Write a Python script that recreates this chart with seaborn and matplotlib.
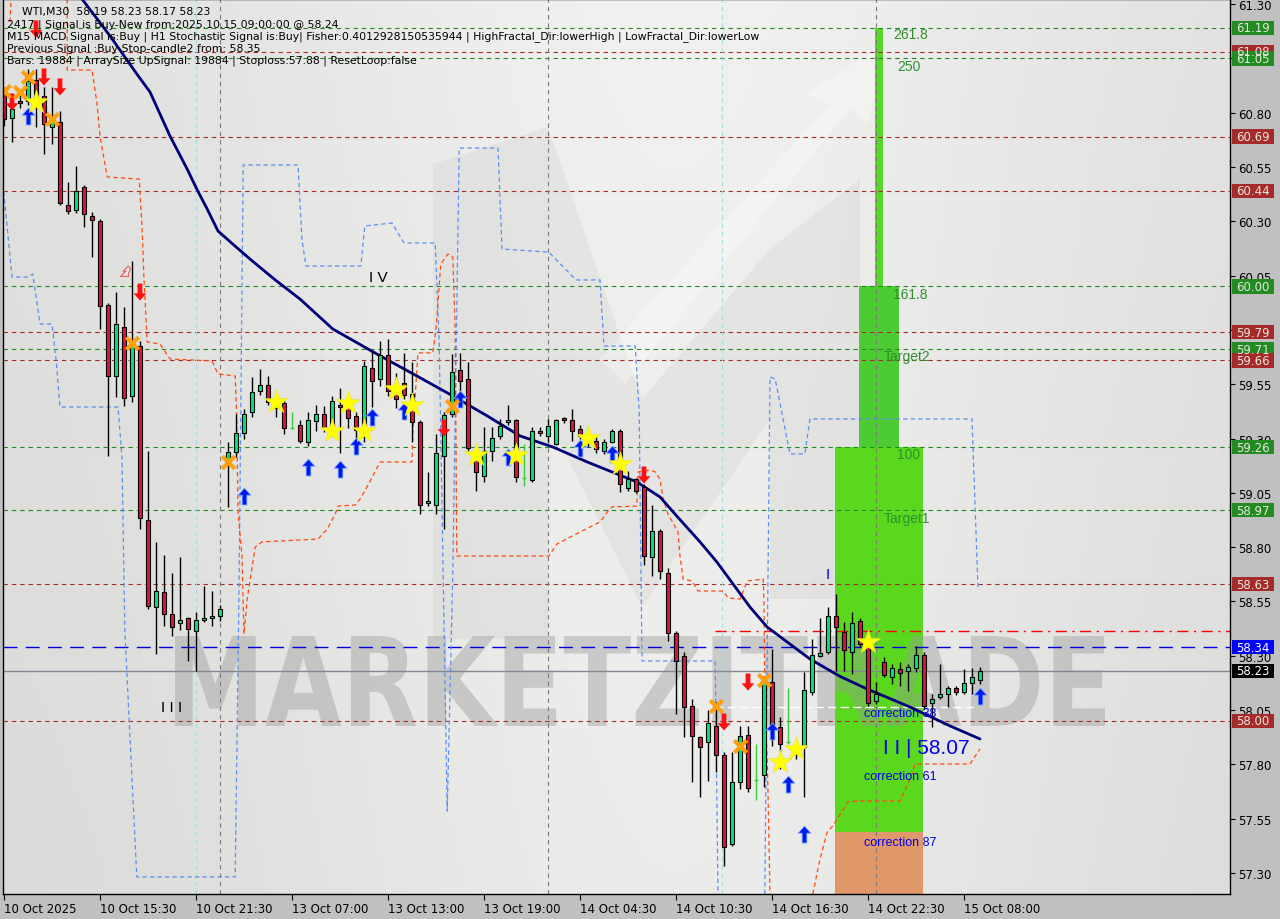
import numpy as np
import pandas as pd
import matplotlib
matplotlib.use("Agg")
import matplotlib.pyplot as plt
import seaborn as sns
import matplotlib.transforms as mtransforms
from matplotlib.patches import Rectangle, Polygon, PathPatch
from matplotlib.textpath import TextPath
from matplotlib.font_manager import FontProperties

# ---------------- data ----------------
opens = [60.886, 60.775, 60.854, 60.854, 60.95, 60.877, 60.734, 60.757, 60.375, 60.352,
         60.458, 60.324, 60.301, 59.915, 59.588, 59.813, 59.496, 59.726, 58.925, 58.524,
         58.593, 58.492, 58.451, 58.474, 58.414, 58.465, 58.474, 58.483, 59.201, 59.238,
         59.325, 59.422, 59.519, 59.546, 59.47, 59.464, 59.35, 59.362, 59.284, 59.381,
         59.413, 59.339, 59.454, 59.454, 59.404, 59.358, 59.625, 59.574, 59.684, 59.52,
         59.555, 59.505, 59.376, 59.003, 58.994, 59.22, 59.413, 59.615, 59.574, 59.215,
         59.127, 59.243, 59.311, 59.376, 59.385, 59.12, 59.109, 59.335, 59.311, 59.275,
         59.395, 59.385, 59.344, 59.32, 59.289, 59.243, 59.284, 59.335, 59.072, 59.113,
         59.077, 58.755, 58.874, 58.681, 58.405, 58.299, 58.069, 57.926, 57.903, 57.977,
         57.843, 57.434, 57.719, 57.935, 57.73, 57.751, 58.179, 57.972, 57.905, 57.871,
         57.88, 58.133, 58.299, 58.317, 58.483, 58.409, 58.317, 58.46, 58.354, 58.092,
         58.271, 58.202, 58.24, 58.23, 58.244, 58.303, 58.083, 58.11, 58.124, 58.152,
         58.133, 58.175, 58.19]
highs = [60.92, 60.877, 60.88, 61.0, 61.0, 60.92, 60.92, 60.807, 60.48, 60.554,
         60.467, 60.343, 60.31, 59.925, 59.974, 59.905, 60.117, 59.749, 59.242, 58.824,
         58.764, 58.681, 58.755, 58.48, 58.501, 58.621, 58.598, 58.534, 59.284, 59.413,
         59.436, 59.583, 59.62, 59.588, 59.50, 59.48, 59.422, 59.385, 59.422, 59.454,
         59.45, 59.496, 59.532, 59.496, 59.422, 59.657, 59.703, 59.749, 59.758, 59.60,
         59.694, 59.652, 59.385, 59.146, 59.321, 59.422, 59.689, 59.694, 59.652, 59.266,
         59.353, 59.353, 59.39, 59.454, 59.39, 59.275, 59.353, 59.353, 59.39, 59.39,
         59.40, 59.436, 59.36, 59.35, 59.31, 59.30, 59.344, 59.344, 59.15, 59.12,
         59.09, 58.994, 58.883, 58.704, 58.414, 58.317, 58.101, 57.93, 58.05, 58.087,
         57.857, 57.857, 57.977, 57.977, 57.894, 58.202, 58.331, 58.018, 58.152, 57.898,
         58.225, 58.377, 58.474, 58.524, 58.584, 58.455, 58.501, 58.474, 58.377, 58.18,
         58.294, 58.262, 58.27, 58.262, 58.345, 58.317, 58.124, 58.262, 58.161, 58.16,
         58.239, 58.244, 58.25]
lows = [60.74, 60.665, 60.82, 60.835, 60.734, 60.61, 60.656, 60.375, 60.335, 60.338,
        60.274, 60.135, 59.804, 59.22, 59.49, 59.45, 59.468, 58.883, 58.515, 58.308,
        58.437, 58.391, 58.418, 58.276, 58.23, 58.455, 58.437, 58.46, 58.985, 59.215,
        59.30, 59.40, 59.50, 59.455, 59.40, 59.321, 59.344, 59.279, 59.266, 59.335,
        59.33, 59.312, 59.234, 59.349, 59.289, 59.284, 59.445, 59.542, 59.496, 59.44,
        59.482, 59.284, 58.952, 58.99, 58.952, 58.883, 59.40, 59.50, 59.243, 59.058,
        59.10, 59.196, 59.30, 59.36, 59.10, 59.08, 59.10, 59.31, 59.284, 59.27,
        59.37, 59.289, 59.30, 59.26, 59.234, 59.23, 59.28, 59.054, 59.06, 59.05,
        58.718, 58.667, 58.653, 58.368, 58.032, 57.926, 57.719, 57.65, 57.724, 57.765,
        57.332, 57.424, 57.687, 57.673, 57.636, 57.696, 57.885, 57.779, 57.894, 57.825,
        57.65, 58.12, 58.294, 58.31, 58.23, 58.23, 58.216, 58.34, 58.069, 58.08,
        58.20, 58.17, 58.16, 58.138, 58.225, 58.055, 57.972, 58.10, 58.064, 58.12,
        58.125, 58.124, 58.17]
closes = [60.77, 60.817, 60.845, 60.946, 60.872, 60.748, 60.76, 60.384, 60.347, 60.44,
          60.333, 60.306, 59.91, 59.588, 59.827, 59.486, 59.735, 58.934, 58.529, 58.598,
          58.492, 58.432, 58.465, 58.423, 58.465, 58.474, 58.483, 58.515, 59.238, 59.325,
          59.413, 59.514, 59.546, 59.468, 59.44, 59.349, 59.35, 59.289, 59.385, 59.413,
          59.349, 59.473, 59.445, 59.395, 59.339, 59.634, 59.565, 59.684, 59.519, 59.48,
          59.50, 59.376, 58.994, 59.012, 59.233, 59.408, 59.606, 59.565, 59.256, 59.146,
          59.243, 59.302, 59.358, 59.385, 59.123, 59.12, 59.335, 59.325, 59.358, 59.385,
          59.385, 59.335, 59.311, 59.28, 59.252, 59.284, 59.335, 59.09, 59.113, 59.058,
          58.759, 58.874, 58.69, 58.405, 58.276, 58.064, 57.931, 57.88, 57.99, 57.843,
          57.42, 57.719, 57.931, 57.692, 57.73, 58.184, 57.977, 57.894, 57.905, 57.85,
          58.143, 58.303, 58.313, 58.483, 58.432, 58.327, 58.451, 58.354, 58.083, 58.124,
          58.211, 58.244, 58.22, 58.248, 58.303, 58.069, 58.101, 58.124, 58.152, 58.133,
          58.175, 58.202, 58.23]

tick_bars = [0, 12, 24, 36, 48, 60, 72, 84, 96, 108, 120]
tick_labels = ["10 Oct 2025", "10 Oct 15:30", "10 Oct 21:30", "13 Oct 07:00", "13 Oct 13:00",
               "13 Oct 19:00", "14 Oct 04:30", "14 Oct 10:30", "14 Oct 16:30", "14 Oct 22:30",
               "15 Oct 08:00"]

# moving average (bar, price)
ma_bar = [9.0, 9.75, 13.25, 16.6, 18.25, 20.75, 22.9, 24.1, 25.4, 26.75, 28.75, 30.75, 33.9,
          37, 41.1, 46.6, 51.6, 56.1, 60.4, 64.5, 68.6, 72.9, 79.1, 82, 84.1, 87, 89.1, 93.25,
          95.4, 100.75, 104.5, 107.9, 113.25, 118.25, 122]
ma_val = [61.40, 61.323, 61.153, 60.978, 60.895, 60.692, 60.54, 60.448, 60.356, 60.255,
          60.19, 60.126, 60.03, 59.942, 59.804, 59.689, 59.588, 59.496, 59.404, 59.312,
          59.261, 59.192, 59.10, 59.031, 58.943, 58.824, 58.732, 58.524, 58.432, 58.285,
          58.205, 58.147, 58.064, 57.977, 57.917]

# fractal channel lines (bar, price)
blue_bar = [-0.125, 1, 3, 3.6, 4.5, 6, 6.5, 7, 14.25, 14.75, 15.1, 16.6, 28.9, 29.4, 29.9, 36.75,
            37.25, 37.75, 44.6, 45.1, 48.5, 50, 53.9, 54.4, 55.4, 56.1, 56.9, 61.75, 62.25, 68.1,
            71.5, 74.5, 75, 78.9, 79.4, 79.75, 88.9, 89.25, np.nan, 95.1, 95.75, 96.4, 98.25,
            100.1, 100.75, 121, 121.75]
blue_val = [60.471, 60.043, 60.043, 60.057, 59.827, 59.827, 59.666, 59.445, 59.445, 59.21,
            58.418, 57.282, 57.282, 58.681, 60.559, 60.559, 60.214, 60.094, 60.094, 60.278,
            60.292, 60.2, 60.2, 59.74, 57.585, 58.681, 60.637, 60.637, 60.172, 60.158, 60.03,
            60.03, 59.726, 59.726, 59.422, 58.276, 58.276, 57.203, np.nan, 57.203, 59.583,
            59.574, 59.229, 59.229, 59.39, 59.39, 58.607]
orange_bar = [0.75, 1, np.nan, 7.9, 7.9, 11, 11.6, 12, 12.9, 16.9, 17.25, 17.5, 17.9, 19.5, 20.75,
              26, 26.75, 28.9, 29.1, 29.25, 29.75, 30, 30.4, 31.4, 32.25, 39.25, 40.4, 41.4,
              41.75, 43.9, 44.5, 45.1, 46.1, 47, 51, 51.1, 51.75, 53.6, 54, 54.6, 55.5, 56.1,
              56.4, 56.6, 68.1, 69.1, 72.5, 74.5, 75.5, 76, 79.1, 79.25, 80.75, 81.4, 82, 82.4,
              83, 83.5, 84.25, 84.5, 84.9, 86, 86.75, 89.9, 90.5, 92, 92.9, 94.9, 95, 95.1,
              95.4, 95.5, 95.75, np.nan, 101.1, 102, 102.9, 103.6, 105.5, 106.1, 112, 113.25,
              113.9, 120.75, 122]
orange_val = [61.217, 61.40, np.nan, 61.40, 60.996, 60.996, 60.849, 60.692, 60.504, 60.494,
              60.278, 60.034, 59.744, 59.735, 59.666, 59.657, 59.597, 59.588, 59.39, 58.962,
              58.759, 58.40, 58.561, 58.80, 58.824, 58.837, 58.883, 58.952, 58.989, 58.994,
              59.021, 59.058, 59.127, 59.192, 59.192, 59.33, 59.694, 59.694, 59.804, 60.103,
              60.149, 60.135, 59.804, 58.759, 58.759, 58.814, 58.879, 58.916, 58.966, 58.985,
              58.989, 59.146, 59.155, 59.146, 59.113, 59.021, 58.952, 58.92, 58.87, 58.759,
              58.653, 58.644, 58.598, 58.598, 58.566, 58.561, 58.644, 58.653, 58.547, 58.133,
              57.825, 57.673, 57.203, np.nan, 57.203, 57.364, 57.489, 57.516, 57.627, 57.631,
              57.631, 57.733, 57.802, 57.802, 57.871]

# signal markers (bar, price)
star_bar = [4, 34, 41, 43, 45, 49, 51, 59, 64, 73, 77, 97, 99, 108]
star_val = [60.849, 59.468, 59.335, 59.463, 59.335, 59.528, 59.454, 59.224, 59.224, 59.302,
            59.183, 57.811, 57.871, 58.363]
cross_bar = [0, 2, 3, 6, 16, 28, 56, 89, 92, 95]
cross_val = [60.90, 60.895, 60.964, 60.771, 59.74, 59.192, 59.45, 58.069, 57.885, 58.188]
up_bar = [3, 30, 38, 42, 44, 46, 50, 57, 63, 72, 76, 96, 98, 100, 122]
up_val = [60.784, 59.035, 59.169, 59.16, 59.266, 59.399, 59.427, 59.482, 59.215, 59.256,
          59.229, 57.954, 57.71, 57.48, 58.115]
down_bar = [1, 4, 5, 7, 17, 55, 80, 90, 93]
down_val = [60.849, 61.185, 60.964, 60.918, 59.974, 59.349, 59.132, 57.995, 58.179]

# horizontal levels
green_levels = [61.19, 61.05, 60.00, 59.71, 59.26, 58.97]
red_levels = [61.08, 60.69, 60.44, 59.79, 59.66, 58.63, 58.00]
signal_level = 58.34
bid_level = 58.23
stop_level = 58.414
corr_level = 58.064

# fibonacci zones: (bar_start, bar_end, price_low, price_high)
fib_zone_100 = (103.9, 114.9, 57.489, 59.26)
fib_zone_87 = (103.9, 114.9, 57.203, 57.489)
fib_zone_161 = (106.9, 111.9, 59.26, 60.00)
fib_zone_261 = (108.9, 109.9, 60.00, 61.19)

# ---------------- figure ----------------
sns.set_style("white")
plt.rcParams["font.family"] = ["DejaVu Sans"]

W, H = 1280, 920
fig = plt.figure(figsize=(12.8, 9.2), dpi=100, facecolor="#c0c0c0")
ax = fig.add_axes([3 / W, 25 / H, 1227 / W, 895 / H])
YMIN, YMAX = 57.2034, 61.323
XMIN, XMAX = -0.125, 153.25
ax.set_xlim(XMIN, XMAX)
ax.set_ylim(YMIN, YMAX)

# background gradient
gx = np.linspace(0, 1, 300)
gy = np.linspace(0, 1, 200)
GX, GY = np.meshgrid(gx, gy)
base = 0.855 + 0.07 * np.exp(-((GX - 0.55) ** 2) / 0.12) + 0.02 * (1 - GY)
img = np.dstack([base, base, base * 0.995])
ax.imshow(np.clip(img, 0, 1), extent=[XMIN, XMAX, YMIN, YMAX], aspect="auto", zorder=0,
          interpolation="bilinear")

def pxa(x, y):
    return ((x - 3) / 1227, (895 - y) / 895)

# faint logo
logo = Polygon([pxa(*p) for p in [(433, 640), (433, 165), (548, 128), (642, 400), (770, 250),
                                   (860, 180), (860, 600), (770, 600), (770, 420), (642, 608),
                                   (548, 420), (548, 640)]],
               closed=True, transform=ax.transAxes, facecolor="#bdbdbd", alpha=0.2,
               edgecolor="none", zorder=0.5)
ax.add_patch(logo)
arrow_poly = Polygon([pxa(*p) for p in [(600, 360), (830, 105), (805, 95), (885, 45), (868, 125),
                                         (850, 110), (625, 385)]],
                     closed=True, transform=ax.transAxes, facecolor="white", alpha=0.3,
                     edgecolor="none", zorder=0.6)
ax.add_patch(arrow_poly)

# fib zones
def zone(z, color, zo=1.5):
    b0, b1, p0, p1 = z
    ax.add_patch(Rectangle((b0, p0), b1 - b0, p1 - p0, facecolor=color, edgecolor="none", zorder=zo))

zone(fib_zone_100, "#5ad81e")
zone(fib_zone_87, "#e0986a")
zone(fib_zone_161, "#4ccc32")
zone(fib_zone_261, "#55d82a")

# watermark text
fp = FontProperties(family="DejaVu Sans", weight="bold")
tp = TextPath((0, 0), "MARKETZITRADE", size=100, prop=fp)
bb = tp.get_extents()
x0, y0 = pxa(175, 727)
x1, y1 = pxa(1105, 637)
tr = (mtransforms.Affine2D().translate(-bb.x0, -bb.y0)
      .scale((x1 - x0) / bb.width, (y1 - y0) / bb.height).translate(x0, y0) + ax.transAxes)
ax.add_patch(PathPatch(tp, transform=tr, facecolor="#9a9a9a", alpha=0.42, edgecolor="none",
                       zorder=2.5))

# horizontal levels
for p in green_levels:
    ax.axhline(p, color="#1f8c1f", lw=0.8, ls=(0, (4, 3.5)), zorder=3)
for p in red_levels:
    ax.axhline(p, color="#a52a2a", lw=0.8, ls=(0, (4, 3.5)), zorder=3)
ax.axhline(signal_level, color="#0000dd", lw=1.0, ls=(0, (10, 6)), zorder=3)
ax.axhline(bid_level, color="#808890", lw=1.0, zorder=3)
ax.hlines(stop_level, 88.9, XMAX, color="#ff0000", lw=1.0, ls=(0, (8, 4, 1.5, 4)), zorder=3)
ax.hlines(corr_level, 88.9, 121.6, color="white", lw=1.0, ls=(0, (6, 3)), zorder=3)

# vertical separators
for b in [27, 68, 109]:
    ax.axvline(b, color="#7a7a7a", lw=0.8, ls=(0, (4, 3.5)), zorder=3)
for b in [23.94, 89.75]:
    ax.axvline(b, color="#a8dce0", lw=0.8, ls=(0, (4, 3.5)), zorder=3)

# fractal channels
ax.plot(blue_bar, blue_val, color="#5b8fee", lw=0.9, ls=(0, (3.5, 2.5)), zorder=3.5)
ax.plot(orange_bar, orange_val, color="#ff4a10", lw=0.9, ls=(0, (3.5, 2.5)), zorder=3.5)

# moving average via seaborn
ma_df = pd.DataFrame({"bar": ma_bar, "ma": ma_val})
sns.lineplot(data=ma_df, x="bar", y="ma", color="#00007a", lw=2.0, ax=ax, zorder=4.5,
             estimator=None, sort=False)

# candles
df = pd.DataFrame({"o": opens, "h": highs, "l": lows, "c": closes})
df["bar"] = np.arange(len(df))
for _, r in df.iterrows():
    doji = abs(r.c - r.o) < 0.004
    if doji:
        ax.vlines(r.bar, r.l, r.h, color="#3ccc3c", lw=1.0, zorder=5)
        ax.hlines(r.c, r.bar - 0.25, r.bar + 0.25, color="#3ccc3c", lw=1.0, zorder=5)
        continue
    ax.vlines(r.bar, r.l, r.h, color="black", lw=1.0, zorder=5)
    lo, hi = min(r.o, r.c), max(r.o, r.c)
    col = "#00e676" if r.c > r.o else "#dc143c"
    ax.bar(r.bar, max(hi - lo, 0.006), bottom=lo, width=0.6, color=col, edgecolor="black",
           linewidth=0.8, zorder=5.5)

# markers
up_m = [(0, 1), (-0.75, 0.15), (-0.28, 0.15), (-0.28, -1), (0.28, -1), (0.28, 0.15), (0.75, 0.15), (0, 1)]
down_m = [(x, -y) for x, y in up_m]
ax.scatter(up_bar, up_val, marker=up_m, s=150, color="#0018f0", edgecolors="#7ab0ff",
           linewidths=0.6, zorder=7)
ax.scatter(down_bar, down_val, marker=down_m, s=150, color="#ff1010", edgecolors="none", zorder=7)
ax.scatter(star_bar, star_val, marker="*", s=330, color="#ffff00", edgecolors="#e8e040",
           linewidths=0.4, zorder=7)
ax.scatter(cross_bar, cross_val, marker="x", s=80, color="#ffa010", linewidths=3, zorder=7)
ax.scatter([15], [60.066], marker=[(0.6, 1), (-0.2, 0.2), (0.2, 0.2), (-0.6, -0.6), (0.6, -0.6),
                                   (0.6, -0.2), (0.9, 0.6), (0.6, 1)],
           s=90, facecolors="#f2e0e0", edgecolors="#e06060", linewidths=0.8, zorder=7)

# chart text objects
ax.text(103, 58.676, "I", color="#0000ee", fontsize=11, ha="center", va="center", zorder=8,
        family="Liberation Sans")
ax.text(21, 58.064, "I I I", color="black", fontsize=11, ha="center", va="center", zorder=8,
        family="Liberation Sans")
ax.text(46.75, 60.043, "I V", color="black", fontsize=11, ha="center", va="center", zorder=8,
        family="Liberation Sans")
ax.text(109.9, 57.88, "I I | 58.07", color="#0000ee", fontsize=15, ha="left", va="center",
        zorder=8, family="Liberation Sans")
for txt, pv in [("correction 38", 58.036), ("correction 61", 57.746), ("correction 87", 57.443)]:
    ax.text(107.5, pv, txt, color="#0000ee", fontsize=9, ha="left", va="center", zorder=8,
            family="Liberation Sans")
for txt, bx, pv in [("261.8", 111.1, 61.162), ("250", 111.6, 61.015), ("161.8", 111.1, 59.965),
                    ("Target2", 110.0, 59.68), ("100", 111.6, 59.229), ("Target1", 110.0, 58.934)]:
    ax.text(bx, pv, txt, color="#2f8f2f", fontsize=10, ha="left", va="center", zorder=8,
            family="Liberation Sans")

# axes styling
for s in ax.spines.values():
    s.set_color("black")
    s.set_linewidth(1.0)
    s.set_zorder(10)
ax.yaxis.tick_right()
yt = np.round(np.arange(57.30, 61.31, 0.25), 2)
ax.set_yticks(yt)
ax.set_yticklabels([f"{v:.2f}" for v in yt])
ax.tick_params(axis="y", which="both", direction="out", length=3.5, width=0.8, colors="black",
               labelsize=8.5, pad=2, right=True, left=False)
ax.set_xticks(tick_bars)
ax.set_xticklabels(tick_labels, ha="left")
ax.tick_params(axis="x", direction="out", length=4, width=0.8, colors="black", labelsize=8.5,
               pad=2, bottom=True)
for lab in ax.get_xticklabels():
    lab.set_horizontalalignment("left")
ax.set_xlabel("")
ax.set_ylabel("")
ax.grid(False)

# price boxes on right scale
trans = mtransforms.blended_transform_factory(fig.transFigure, ax.transData)
boxes = [(61.19, "#228b22"), (61.08, "#a52a2a"), (61.05, "#228b22"), (60.69, "#a52a2a"),
         (60.44, "#a52a2a"), (60.00, "#228b22"), (59.79, "#a52a2a"), (59.71, "#228b22"),
         (59.66, "#a52a2a"), (59.26, "#228b22"), (58.97, "#228b22"), (58.63, "#a52a2a"),
         (58.34, "#0000ff"), (58.23, "#000000"), (58.00, "#a52a2a")]
hpx = 14.5 / 217.25
for pv, colr in boxes:
    rect = Rectangle((1232 / W, pv - hpx / 2), 42 / W, hpx, transform=trans, facecolor=colr,
                     edgecolor="none", clip_on=False, zorder=20)
    fig.add_artist(rect)
    tcol = "white" if colr in ("#0000ff", "#000000") else "#e6e6dc"
    fig.text(1236 / W, pv, f"{pv:.2f}", transform=trans, color=tcol, fontsize=8.5,
             va="center", ha="left", zorder=21)

# header info
info = [(22, 12, "WTI,M30  58.19 58.23 58.17 58.23"),
        (7, 25, "2417 | Signal is Buy-New from:2025.10.15 09:00:00 @ 58.24"),
        (7, 37, "M15 MACD Signal is:Buy | H1 Stochastic Signal is:Buy| Fisher:0.4012928150535944 | HighFractal_Dir:lowerHigh | LowFractal_Dir:lowerLow"),
        (7, 49, "Previous Signal :Buy-Stop-candle2 from: 58.35"),
        (7, 61, "Bars: 19884 | ArraySize UpSignal: 19884 | Stoploss:57.88 | ResetLoop:false")]
for xp, yp, txt in info:
    fig.text(xp / W, 1 - yp / H, txt, fontsize=7.8, color="black", ha="left", va="center", zorder=22)

fig.savefig("out.png", dpi=100, facecolor=fig.get_facecolor())
